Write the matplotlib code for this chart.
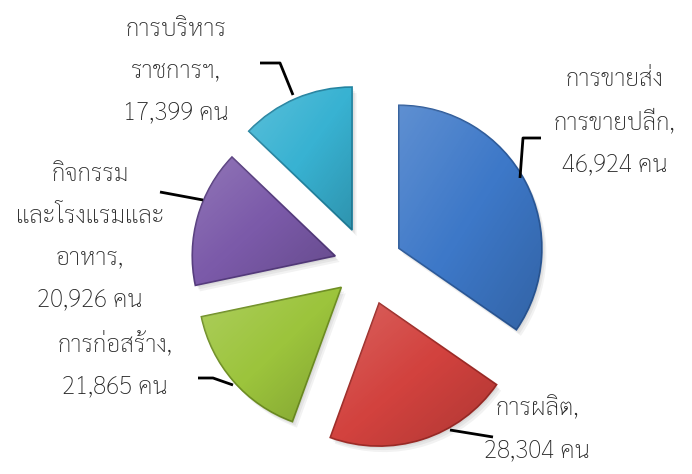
import numpy as np
from matplotlib import pyplot as plt
from matplotlib.patches import Wedge

plt.rcParams['font.family'] = ['Sarabun', 'DejaVu Sans']

categories = ['การขายส่ง\nการขายปลีก', 'การผลิต', 'การก่อสร้าง',
              'กิจกรรม\nและโรงแรมและ\nอาหาร', 'การบริหาร\nราชการฯ']
values = [46924, 28304, 21865, 20926, 17399]
colors = ['#3d78c8', '#d2423e', '#9cc43c', '#7b5aa9', '#38b2d2']
edges = ['#2c5a9a', '#9e2c28', '#6f8f24', '#563c7e', '#2383a0']

W, H = 692, 474
fig = plt.figure(figsize=(W / 100, H / 100), dpi=100)
ax = fig.add_axes([0, 0, 1, 1])

# explode is in data units here (pixels)
wedges, _ = ax.pie(values, colors=colors, startangle=90, counterclock=False,
                   explode=[36, 40, 34, 33, 38], radius=143,
                   center=(367, H - 265), frame=True,
                   wedgeprops=dict(linewidth=1.2))
ax.set_xlim(0, W)
ax.set_ylim(0, H)
ax.set_aspect('equal')
ax.axis('off')

# soft shadow + a bit of shading so the slices don't look too flat
yy, xx = np.mgrid[0:1:200j, 0:1:200j]
shade = np.zeros((200, 200, 4))
g = (xx + yy) / 2
shade[..., :3] = (g < 0.5)[..., None] * 1.0
shade[..., 3] = np.abs(g - 0.5) * 0.35
for w, e in zip(wedges, edges):
    w.set_edgecolor(e)
    for k in range(1, 4):
        sh = Wedge((w.center[0] + 1.5 * k, w.center[1] - 2 * k), w.r, w.theta1, w.theta2,
                   facecolor='black', edgecolor='none', alpha=0.05, zorder=w.get_zorder() - 0.5)
        ax.add_patch(sh)
    bb = w.get_path().get_extents(w.get_transform())
    bb = bb.transformed(ax.transData.inverted())
    im = ax.imshow(shade, extent=(bb.x0, bb.x1, bb.y0, bb.y1),
                   origin='upper', zorder=w.get_zorder() + 0.1,
                   interpolation='bilinear')
    im.set_clip_path(w)
ax.set_xlim(0, W)
ax.set_ylim(0, H)

labels = [f"{c},\n{v:,} คน" for c, v in zip(categories, values)]
label_pos = [(615, 122), (537, 430), (115, 365), (90, 237), (176, 71)]
for (x, y), t in zip(label_pos, labels):
    ax.text(x, H - y, t, ha='center', va='center', fontsize=17.5,
            fontweight='light', linespacing=1.88, color='#262626')

leaders = [
    [(520, 178), (523, 138), (541, 138)],
    [(450, 430), (493, 437)],
    [(198, 378), (213, 378), (233, 385)],
    [(160, 192), (203, 200)],
    [(260, 63), (280, 63), (293, 95)],
]
for pts in leaders:
    xs = [p[0] for p in pts]
    ys = [H - p[1] for p in pts]
    ax.plot(xs, ys, color='black', lw=2, solid_capstyle='butt')

plt.savefig('out.png', dpi=100)
